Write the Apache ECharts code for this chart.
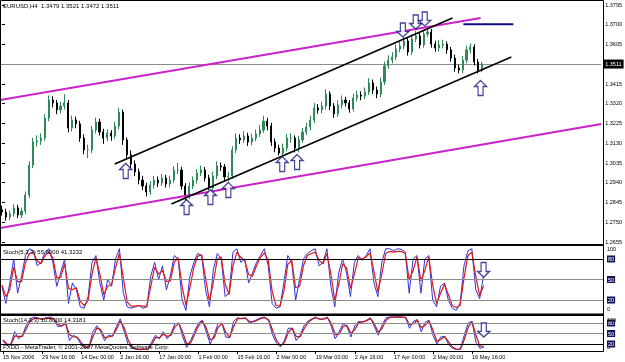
<!DOCTYPE html>
<html><head><meta charset="utf-8">
<script src="https://cdn.jsdelivr.net/npm/echarts@6/dist/echarts.min.js"></script>
<style>html,body{margin:0;padding:0;background:#fff}#c{width:625px;height:362px}</style>
</head><body><div id="c"></div><script>
// ---- data (124 H4 bars, coarse sampling) ----
const opens = [1.2810,1.2799,1.2775,1.2790,1.2819,1.2785,1.2804,1.2881,1.3025,1.3136,1.3141,1.3155,1.3251,1.3338,1.3324,1.3290,1.3309,1.3324,1.3203,1.3242,
1.3223,1.3155,1.3098,1.3098,1.3194,1.3232,1.3184,1.3155,1.3179,1.3165,1.3213,1.3280,1.3146,1.3074,1.3030,1.2992,1.2953,1.2924,1.2896,1.2929,
1.2953,1.2939,1.2963,1.2934,1.2953,1.3001,1.3001,1.2924,1.2876,1.2924,1.2953,1.2987,1.3001,1.2963,1.2915,1.2973,1.3021,1.3016,1.2968,1.2973,
1.3098,1.3155,1.3146,1.3165,1.3136,1.3155,1.3175,1.3194,1.3237,1.3213,1.3136,1.3107,1.3083,1.3107,1.3155,1.3155,1.3107,1.3146,1.3184,1.3208,
1.3242,1.3300,1.3290,1.3309,1.3367,1.3309,1.3271,1.3314,1.3338,1.3324,1.3295,1.3348,1.3362,1.3357,1.3377,1.3420,1.3386,1.3367,1.3425,1.3502,
1.3530,1.3545,1.3583,1.3598,1.3622,1.3569,1.3632,1.3646,1.3603,1.3656,1.3665,1.3607,1.3588,1.3603,1.3607,1.3579,1.3540,1.3492,1.3482,1.3530,
1.3579,1.3593,1.3521,1.3479];
const closes = [1.2799,1.2775,1.2790,1.2819,1.2785,1.2804,1.2881,1.3025,1.3136,1.3141,1.3155,1.3251,1.3338,1.3324,1.3290,1.3309,1.3324,1.3203,1.3242,1.3223,
1.3155,1.3098,1.3098,1.3194,1.3232,1.3184,1.3155,1.3179,1.3165,1.3213,1.3280,1.3146,1.3074,1.3030,1.2992,1.2953,1.2924,1.2896,1.2929,1.2953,
1.2939,1.2963,1.2934,1.2953,1.3001,1.3001,1.2924,1.2876,1.2924,1.2953,1.2987,1.3001,1.2963,1.2915,1.2973,1.3021,1.3016,1.2968,1.2973,1.3098,
1.3155,1.3146,1.3165,1.3136,1.3155,1.3175,1.3194,1.3237,1.3213,1.3136,1.3107,1.3083,1.3107,1.3155,1.3155,1.3107,1.3146,1.3184,1.3208,1.3242,
1.3300,1.3290,1.3309,1.3367,1.3309,1.3271,1.3314,1.3338,1.3324,1.3295,1.3348,1.3362,1.3357,1.3377,1.3420,1.3386,1.3367,1.3425,1.3502,1.3530,
1.3545,1.3583,1.3598,1.3622,1.3569,1.3632,1.3646,1.3603,1.3656,1.3665,1.3607,1.3588,1.3603,1.3607,1.3579,1.3540,1.3492,1.3482,1.3530,1.3579,
1.3593,1.3521,1.3482,1.3511];
const lows = [1.2782,1.2758,1.2760,1.2777,1.2770,1.2771,1.2790,1.2867,1.3010,1.3114,
1.3122,1.3142,1.3236,1.3302,1.3270,1.3274,1.3292,1.3182,1.3187,1.3202,
1.3137,1.3077,1.3058,1.3082,1.3177,1.3167,1.3127,1.3140,1.3142,1.3152,
1.3197,1.3122,1.3052,1.3010,1.2972,1.2932,1.2904,1.2874,1.2882,1.2912,
1.2920,1.2924,1.2917,1.2918,1.2940,1.2982,1.2907,1.2856,1.2862,1.2910,
1.2937,1.2972,1.2947,1.2905,1.2902,1.2957,1.2997,1.2947,1.2946,1.2960,
1.3082,1.3127,1.3132,1.3117,1.3120,1.3140,1.3160,1.3180,1.3192,1.3117,
1.3087,1.3072,1.3070,1.3092,1.3132,1.3086,1.3086,1.3132,1.3170,1.3192,
1.3227,1.3272,1.3274,1.3292,1.3290,1.3252,1.3257,1.3297,1.3307,1.3277,
1.3282,1.3332,1.3337,1.3342,1.3362,1.3367,1.3347,1.3352,1.3410,1.3487,
1.3514,1.3530,1.3567,1.3582,1.3552,1.3554,1.3617,1.3586,1.3590,1.3640,
1.3590,1.3570,1.3572,1.3586,1.3560,1.3522,1.3474,1.3466,1.3467,1.3514,
1.3562,1.3504,1.3466,1.3472];
const highs = [1.2830,1.2815,1.2806,1.2836,1.2834,1.2820,1.2898,1.3044,1.3156,1.3168,
1.3178,1.3270,1.3360,1.3356,1.3338,1.3330,1.3366,1.3338,1.3263,1.3258,
1.3238,1.3173,1.3123,1.3213,1.3253,1.3248,1.3200,1.3198,1.3193,1.3233,
1.3300,1.3292,1.3158,1.3096,1.3048,1.3008,1.2973,1.2940,1.2948,1.2973,
1.2970,1.2983,1.2978,1.2974,1.3020,1.3036,1.3016,1.2938,1.2943,1.2970,
1.3006,1.3023,1.3016,1.2978,1.2993,1.3043,1.3038,1.3030,1.2993,1.3116,
1.3178,1.3173,1.3188,1.3180,1.3176,1.3196,1.3218,1.3262,1.3253,1.3228,
1.3153,1.3123,1.3128,1.3176,1.3178,1.3168,1.3166,1.3204,1.3228,1.3263,
1.3323,1.3318,1.3330,1.3390,1.3380,1.3323,1.3336,1.3360,1.3353,1.3338,
1.3368,1.3383,1.3380,1.3398,1.3443,1.3436,1.3403,1.3446,1.3523,1.3553,
1.3568,1.3606,1.3620,1.3640,1.3636,1.3653,1.3670,1.3660,1.3676,1.3688,
1.3680,1.3623,1.3626,1.3628,1.3620,1.3593,1.3556,1.3508,1.3550,1.3600,
1.3610,1.3606,1.3536,1.3521];
const stoch1Main = [40,15,45,80,30,55,85,95,92,70,75,90,95,75,40,60,80,15,45,35,10,8,25,75,85,45,20,50,40,80,95,30,10,8,10,12,8,10,55,75,
50,70,35,55,85,80,20,5,55,75,88,85,35,10,65,88,80,25,30,90,95,75,80,45,60,75,85,95,70,15,8,10,45,85,75,20,50,80,88,92,
95,70,75,95,40,10,60,80,60,25,75,85,78,85,95,45,25,75,95,95,92,95,94,90,30,80,85,30,80,85,20,10,40,45,20,8,5,15,70,92,
95,35,22,55.8];
const stoch1Signal = [42,25,35,68,47,47,75,88,90,77,73,85,90,82,52,53,73,37,35,38,18,12,19,58,82,58,28,40,43,67,88,52,17,11,11,12,11,11,40,68,
58,63,47,48,75,82,40,12,38,68,84,86,52,18,47,80,83,43,28,70,90,82,78,57,55,70,82,89,78,33,12,11,33,72,78,38,40,70,85,88,
90,78,73,88,58,20,43,73,67,37,58,82,80,83,89,62,32,58,88,91,90,91,91,88,50,63,83,48,63,83,42,15,30,43,28,12,9,12,52,85,
90,55,26,41.3];
const stoch2Main = [30,15,20,55,35,45,75,92,97,94,90,95,97,92,70,72,82,30,45,38,18,8,12,55,72,55,30,45,42,70,92,55,20,8,5,4,5,4,25,45,
35,55,35,50,78,80,40,10,30,55,80,88,55,20,45,78,80,40,38,85,95,92,95,80,85,90,95,97,85,45,22,12,30,65,65,30,45,72,85,92,
97,90,92,97,70,35,55,78,70,40,72,85,82,88,95,70,45,75,95,97,97,98,97,95,65,85,90,55,82,88,45,20,40,42,18,8,4,6,45,80,
85,25,8,10.8];
const stoch2Signal = [32,20,18,43,42,42,65,86,93,93,91,93,94,92,77,71,79,47,40,40,25,11,11,41,66,61,38,40,43,61,85,67,32,12,6,4,5,4,18,38,
38,48,42,45,69,79,53,20,23,47,72,85,66,32,37,67,79,53,39,69,92,93,94,85,83,88,93,95,89,58,30,15,24,53,65,42,40,63,81,90,
95,92,91,95,79,47,48,70,73,50,61,81,83,86,93,78,53,65,88,96,97,97,97,96,75,78,88,67,73,86,59,28,33,41,26,11,5,5,32,68,
83,45,14,14.3];
const dateLabels = ['15 Nov 2006','29 Nov 16:00','14 Dec 00:00','2 Jan 16:00','17 Jan 00:00','1 Feb 00:00','15 Feb 16:00',
  '2 Mar 00:00','19 Mar 00:00','2 Apr 16:00','17 Apr 00:00','2 May 00:00','16 May 16:00'];
const priceMin = 1.2655, priceMax = 1.3795, priceStep = 0.0095;
const bidPrice = 1.3511;
// trend lines: [bar index, price]
const pinkUpper = [[-0.5,1.3338],[122.6,1.3732]];
const pinkLower = [[-0.5,1.2722],[153.5,1.3223]];
const channelUpper = [[28.9,1.3030],[115.4,1.3732]];
const channelLower = [[43.4,1.2838],[130.5,1.3545]];
const navyLine = [[118.2,1.3702],[131.0,1.3702]];
const upArrows = [[31.7,1.2997],[47.3,1.2823],[53.4,1.2871],[58.0,1.2905],[71.8,1.3030],[75.6,1.3040],[122.6,1.3396]];
const downArrows = [[102.7,1.3675],[106.0,1.3713],[108.3,1.3728]];
const stoch1Arrow = [[123,64]];
const stoch2Arrow = [[123,60]];
const stoch1Levels = [80,50,20];
const stoch2Levels = [80,50,20];

// ---- build ----
const N = 154;
const cats = Array.from({length:N},(_,i)=>'b'+i);
const isLab = i => i%10===0 && i/10 < dateLabels.length;
const toAx = p => (p - priceMin)*10000;
const candle = opens.map((o,i)=>[toAx(o),toAx(closes[i]),toAx(lows[i]),toAx(highs[i])]);
const cv = a => a.map(d=>[d[0],toAx(d[1])]);
const FF = 'Liberation Sans';
const upPath = 'path://M6,0 L12,6 L8.5,6 L8.5,15 L3.5,15 L3.5,6 L0,6 Z';
const dnPath = 'path://M3.5,0 L8.5,0 L8.5,9 L12,9 L6,15 L0,9 L3.5,9 Z';
const arrowStyle = {color:'#fff', borderColor:'#141480', borderWidth:1.3};
const lineS = (data,color,w) => ({type:'line', xAxisIndex:1, yAxisIndex:0, data:cv(data), symbol:'none', silent:true, z:5,
  lineStyle:{color:color,width:w}});
const stochLabel = v => {
  if (v===100) return '{top|100}';
  if (v===0) return '{bot|0}';
  if (v===80||v===50||v===20) return '{box|'+v+'}';
  return '';
};
const stochRich = {
  top:{fontSize:5.5, color:'#000', padding:[9,0,0,0], fontFamily:FF},
  bot:{fontSize:5.5, color:'#000', padding:[0,0,8,0], fontFamily:FF},
  box:{fontSize:5.5, color:'#fff', backgroundColor:'#14145a', padding:[1,1,0,1], fontFamily:FF}
};
const stochY = (gi) => ({type:'value', gridIndex:gi, position:'right', min:0, max:100, interval:10,
  axisLine:{show:false}, axisTick:{show:false}, splitLine:{show:false},
  axisLabel:{show:true, formatter:stochLabel, rich:stochRich, margin:4, fontSize:5.5}});
const levelML = (levels, colors) => ({symbol:'none', silent:true, label:{show:false},
  data: levels.map((v,k)=>({yAxis:v, lineStyle:{color:colors[k], width:1, type:'solid'}}))});

const chart = echarts.init(document.getElementById('c'), null, {renderer:'canvas'});
chart.setOption({
  animation:false,
  backgroundColor:'#fff',
  textStyle:{fontFamily:FF},
  title:[
    {text:'EURUSD,H4  1.3479 1.3521 1.3472 1.3511', left:3, top:3, padding:0, textStyle:{fontSize:6, fontWeight:'normal', color:'#000', fontFamily:FF}},
    {text:'Stoch(5,3,3) 55.8000 41.3232', left:3, top:249, padding:0, textStyle:{fontSize:6, fontWeight:'normal', color:'#000', fontFamily:FF}},
    {text:'Stoch(14,3,3) 10.8000 14.3181', left:3, top:317, padding:0, textStyle:{fontSize:6, fontWeight:'normal', color:'#000', fontFamily:FF}},
    {text:'FXDD - MetaTrader, © 2001-2007 MetaQuotes Software Corp.', left:3, top:344, padding:0, textStyle:{fontSize:6, fontWeight:'normal', color:'#000', fontFamily:FF}}
  ],
  grid:[
    {left:0, top:5, width:603, height:237},
    {left:0, top:245.3, width:603, height:68.4},
    {left:0, top:316, width:603, height:35}
  ],
  xAxis:[
    {type:'category', gridIndex:0, data:cats, show:false},
    {type:'value', gridIndex:0, min:-0.5, max:N-0.5, show:false},
    {type:'category', gridIndex:1, data:cats, show:false},
    {type:'category', gridIndex:2, data:cats, axisLine:{show:false},
      axisTick:{show:true, length:3, alignWithLabel:true, interval:(i)=>isLab(i), lineStyle:{color:'#000'}},
      axisLabel:{show:true, interval:(i)=>isLab(i), align:'left', fontSize:5.5, margin:3, color:'#000', fontFamily:FF,
        formatter:(v,i)=> isLab(i) ? dateLabels[i/10] : ''}}
  ],
  yAxis:[
    {type:'value', gridIndex:0, position:'right', min:0, max:toAx(priceMax), interval:priceStep*10000,
      axisLine:{show:false}, splitLine:{show:false},
      axisTick:{show:true, length:3, lineStyle:{color:'#000'}},
      axisLabel:{show:true, fontSize:5.5, margin:4, color:'#000', fontFamily:FF,
        formatter:v=>{const p=priceMin+v/10000; return Math.abs(p-1.3510)<0.00005?'':p.toFixed(4);}}},
    stochY(1), stochY(2)
  ],
  graphic:[
    {type:'rect', shape:{x:0.5,y:0.5,width:603,height:351}, style:{fill:'none', stroke:'#000', lineWidth:1}, z:100, silent:true},
    {type:'rect', shape:{x:0,y:244,width:604,height:2}, style:{fill:'#000'}, z:100, silent:true},
    {type:'rect', shape:{x:0,y:313.5,width:604,height:2.5}, style:{fill:'#000'}, z:100, silent:true}
  ],
  series:[
    {type:'candlestick', xAxisIndex:0, yAxisIndex:0, data:candle, barWidth:1.6, z:3,
      itemStyle:{color:'#2e8b57', color0:'#000', borderColor:'#2e8b57', borderColor0:'#000', borderWidth:1},
      markLine:{symbol:'none', silent:true, z:1,
        lineStyle:{color:'#8c8c8c', width:1, type:'solid'},
        label:{show:true, position:'end', formatter:bidPrice.toFixed(4), color:'#fff', backgroundColor:'#000',
          fontSize:5.5, padding:[2,2,1,2], distance:2, fontFamily:FF},
        data:[{yAxis:toAx(bidPrice)}]}},
    lineS(pinkUpper,'#cc22cc',2),
    lineS(pinkLower,'#cc22cc',2),
    lineS(channelUpper,'#000',1.6),
    lineS(channelLower,'#000',1.6),
    lineS(navyLine,'#101080',2),
    {type:'scatter', xAxisIndex:1, yAxisIndex:0, data:cv(upArrows), symbol:upPath, symbolSize:[12,15], itemStyle:arrowStyle, z:10, silent:true},
    {type:'scatter', xAxisIndex:1, yAxisIndex:0, data:cv(downArrows), symbol:dnPath, symbolSize:[12,14], itemStyle:arrowStyle, z:10, silent:true},
    {type:'line', xAxisIndex:2, yAxisIndex:1, data:stoch1Main, symbol:'none', lineStyle:{color:'#3030e0', width:1}, z:3,
      markLine:levelML(stoch1Levels,['#000','#8c8c8c','#8c8c8c'])},
    {type:'line', xAxisIndex:2, yAxisIndex:1, data:stoch1Signal, symbol:'none', lineStyle:{color:'#e01818', width:1.2}, z:4},
    {type:'scatter', xAxisIndex:2, yAxisIndex:1, data:stoch1Arrow, symbol:dnPath, symbolSize:[12,15], itemStyle:arrowStyle, z:10, silent:true},
    {type:'line', xAxisIndex:3, yAxisIndex:2, data:stoch2Main, symbol:'none', lineStyle:{color:'#3030e0', width:1}, z:3,
      markLine:levelML(stoch2Levels,['#8c8c8c','#8c8c8c','#000'])},
    {type:'line', xAxisIndex:3, yAxisIndex:2, data:stoch2Signal, symbol:'none', lineStyle:{color:'#c01818', width:1.2}, z:4},
    {type:'scatter', xAxisIndex:3, yAxisIndex:2, data:stoch2Arrow, symbol:dnPath, symbolSize:[12,14], itemStyle:arrowStyle, z:10, silent:true}
  ]
});
</script></body></html>
